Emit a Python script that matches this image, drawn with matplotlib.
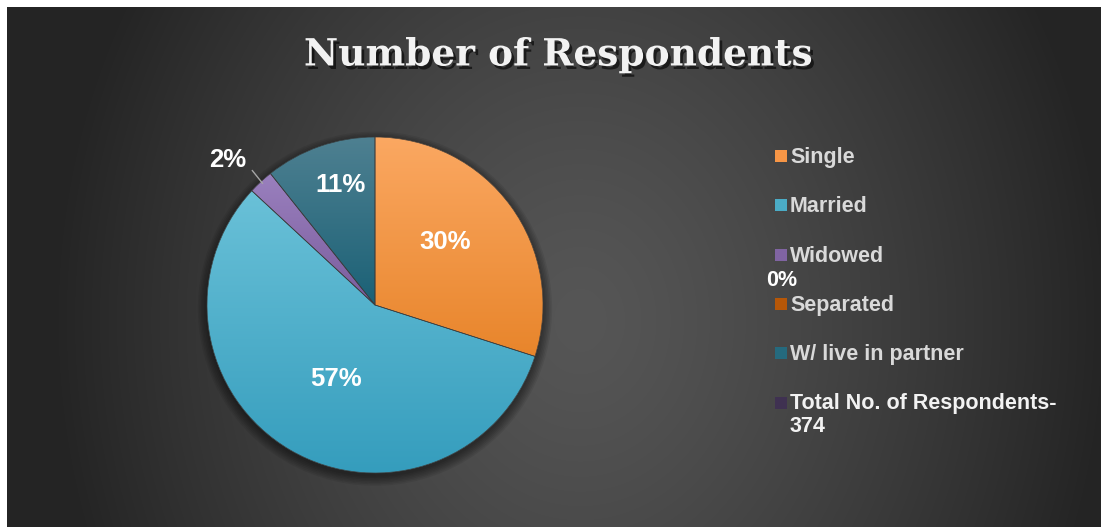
import numpy as np
import matplotlib
matplotlib.use('Agg')
import matplotlib.pyplot as plt
from matplotlib.patches import Wedge, Circle, Rectangle
import matplotlib.patheffects as pe

# respondents by civil status (total 374)
categories = ["Single", "Married", "Widowed", "Separated", "W/ live in partner"]
counts = [112, 213, 9, 0, 40]
total_label = "Total No. of Respondents-\n374"

slice_top = ["#FBA862", "#6AC1D8", "#9A80BE", "#C8651A", "#4E8091"]
slice_bottom = ["#E8852B", "#359DBD", "#7A5C9D", "#A84F08", "#1B6176"]
legend_colors = ["#F79646", "#4BACC6", "#8064A2", "#B65708", "#256A7E", "#3F3151"]

W, H = 1101, 527
fig = plt.figure(figsize=(W / 100, H / 100), dpi=100, facecolor="white")

# dark radial background
bg = fig.add_axes([7 / W, 0, (W - 7) / W, (H - 7) / H])
bg.axis("off")
ny, nx = H - 7, W - 7
yy, xx = np.mgrid[0:ny, 0:nx]
d = np.sqrt(((xx - 573) / 530.0) ** 2 + ((yy - 313) / 640.0) ** 2)
t = np.clip(d, 0, 1) ** 1.3
g = (0x56 + (0x24 - 0x56) * t) / 255.0
bg.imshow(np.dstack([g, g, g]), extent=[0, 1, 0, 1], aspect="auto", origin="upper")
bg.set_xlim(0, 1)
bg.set_ylim(0, 1)

# pie axes: centre (375, 305) px, radius 168 px
cx, cy, R = 375, 305, 168
k = 1.1
half = R * k
ax = fig.add_axes([(cx - half) / W, (H - cy - half) / H, 2 * half / W, 2 * half / H])
ax.axis("off")

# soft shadow under the pie
for i in range(7):
    ax.add_patch(Circle((0, -0.022), 1.0 + 0.009 * i, color="black", alpha=0.07,
                        lw=0, zorder=0.5, clip_on=False))

wedges, texts, autotexts = ax.pie(
    counts, colors=legend_colors[:5], startangle=90, counterclock=False, radius=1,
    autopct=lambda p: f"{p:.0f}%", pctdistance=0.5,
    wedgeprops=dict(linewidth=0),
    textprops=dict(color="white", fontsize=18.5, fontweight="bold", family="Liberation Sans"),
)

# vertical gradient fill for every slice
for w, c0, c1 in zip(wedges, slice_top, slice_bottom):
    if w.theta2 - w.theta1 < 1e-6:
        continue
    ext = w.get_path().get_extents()
    a = np.array(matplotlib.colors.to_rgb(c0))
    b = np.array(matplotlib.colors.to_rgb(c1))
    s = np.linspace(0, 1, 200)[:, None]
    grad = (a[None, :] * (1 - s) + b[None, :] * s)[:, None, :]
    im = ax.imshow(grad, extent=[ext.x0, ext.x1, ext.y0, ext.y1], origin="upper",
                   aspect="auto", zorder=1.5, interpolation="bilinear")
    im.set_clip_path(w)
    ax.add_patch(Wedge(w.center, w.r, w.theta1, w.theta2, fill=False,
                       ec="#3c3c3c", lw=0.5, zorder=2))

ax.set_xlim(-k, k)
ax.set_ylim(-k, k)

for txt in autotexts:
    txt.set_zorder(3)

# label placement
autotexts[0].set_position((0.42, 0.375))
autotexts[1].set_position((-0.232, -0.44))
autotexts[4].set_position((-0.208, 0.714))
autotexts[2].set_position((-0.875, 0.863))
autotexts[3].set_position(((782 - cx) / R, (cy - 280) / R))
autotexts[3].set_fontsize(15.5)
ax.plot([-0.73, -0.67], [0.80, 0.725], color="#A6A6A6", lw=1, zorder=3, clip_on=False)

# title
fig.text(558 / W, 1 - 55 / H, "Number of Respondents", ha="center", va="center",
         fontsize=27, fontweight="bold", family="DejaVu Serif", color="#F2F2F2",
         path_effects=[pe.SimplePatchShadow(offset=(2, -2.5), shadow_rgbFace="black", alpha=0.6),
                       pe.Normal()])

# legend
labels = categories + [total_label]
for i, (lab, col) in enumerate(zip(labels, legend_colors)):
    y = 156 + 49.3 * i
    fig.patches.append(Rectangle((775 / W, 1 - (y + 6) / H), 12 / W, 12 / H,
                                 transform=fig.transFigure, facecolor=col, edgecolor="none"))
    fig.text(790 / W, 1 - (y - 9) / H, lab, ha="left", va="top", fontsize=15.5,
             fontweight="bold", family="Liberation Sans",
             color="#F2F2F2" if i == 5 else "#D9D9D9", linespacing=1.12)

fig.savefig("out.png", dpi=100, facecolor="white")
